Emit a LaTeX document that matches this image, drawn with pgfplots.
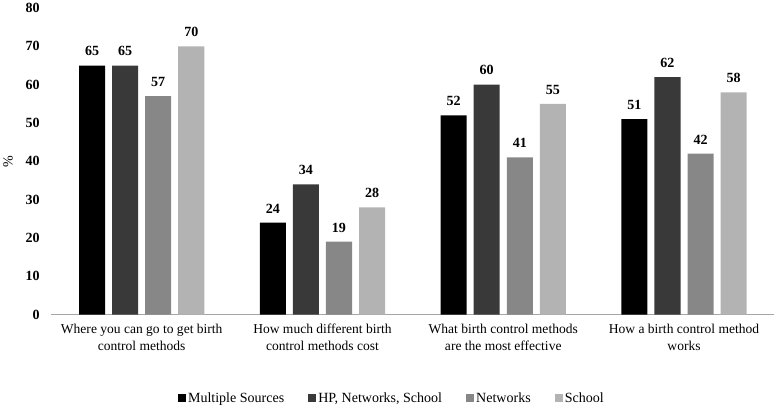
\documentclass[border=0pt]{standalone}
\usepackage{pgfplots}
\pgfplotsset{compat=1.18}
\usepackage{fontspec}
\setmainfont{Liberation Serif}
\definecolor{c1}{HTML}{000000}
\definecolor{c2}{HTML}{393939}
\definecolor{c3}{HTML}{878787}
\definecolor{c4}{HTML}{B3B3B3}
\definecolor{axgray}{HTML}{A6A6A6}
\begin{document}
\begin{tikzpicture}
\begin{axis}[
  scale only axis,
  width=722pt, height=306pt,
  ybar, bar width=26pt,
  ymin=0, ymax=80, ytick={0,10,...,80},
  xmin=-0.5, xmax=3.5,
  xtick={0,1,2,3},
  xticklabels={Where you can go to get birth\\control methods,How much different birth\\control methods cost,What birth control methods\\are the most effective,How a birth control method\\works},
  x tick label style={align=center, font=\fontsize{13.5}{17}\selectfont, yshift=-6pt},
  y tick label style={font=\fontsize{14}{16}\selectfont\bfseries, xshift=-8pt},
  /pgf/number format/assume math mode=true,
  major tick length=0pt,
  axis x line*=bottom, axis y line*=left,
  axis line style={draw=none},
  ytick style={draw=none}, xtick style={draw=none},
  ylabel={\%},
  ylabel style={font=\fontsize{14}{16}\selectfont, yshift=6pt},
  nodes near coords,
  every node near coord/.append style={font=\fontsize{14}{16}\selectfont\bfseries, yshift=6pt},
  legend columns=4,
  legend style={draw=none, at={(0.471,-0.275)}, anchor=center, font=\fontsize{14}{16}\selectfont, /tikz/every even column/.append style={column sep=22pt}},
  legend image code/.code={\fill[#1] (0pt,-3.5pt) rectangle (8pt,4.5pt);},
  clip=false,
]
\draw[axgray, line width=1.2pt] (axis cs:-0.5,0) -- (axis cs:3.5,0);
\addplot[fill=c1, draw=none, bar shift=-49.5pt] coordinates {(0,65) (1,24) (2,52) (3,51)};
\addplot[fill=c2, draw=none, bar shift=-16.5pt] coordinates {(0,65) (1,34) (2,60) (3,62)};
\addplot[fill=c3, draw=none, bar shift=16.5pt] coordinates {(0,57) (1,19) (2,41) (3,42)};
\addplot[fill=c4, draw=none, bar shift=49.5pt] coordinates {(0,70) (1,28) (2,55) (3,58)};
\legend{Multiple Sources, {HP, Networks, School}, Networks, School}
\end{axis}
\end{tikzpicture}
\end{document}
